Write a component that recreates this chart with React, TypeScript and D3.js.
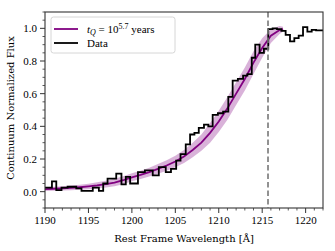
import React from "react";
import * as d3 from "d3";

// observed spectrum: bin left edges (Å) and flux, last edge closes the final bin
const binEdges = [
  1190.0, 1190.8, 1191.3, 1191.9, 1192.6, 1193.6, 1194.2, 1195.5, 1196.2, 1196.7,
  1197.2, 1198.2, 1198.8, 1199.3, 1199.8, 1200.7, 1201.5, 1202.4, 1203.1, 1203.9,
  1204.5, 1205.1, 1205.6, 1206.2, 1206.7, 1207.2, 1207.7, 1208.3, 1208.8, 1209.3,
  1209.9, 1210.5, 1211.1, 1211.6, 1212.2, 1212.8, 1213.3, 1213.8, 1214.2, 1214.7,
  1215.2, 1215.7, 1216.2, 1216.7, 1217.2, 1217.7, 1218.2, 1218.7, 1219.2, 1219.7,
  1220.2, 1220.7, 1221.2, 1222.0,
];
const dataFlux = [
  0.025, 0.063, 0.01, 0.025, 0.03, 0.02, 0.005, 0.025, 0.005, 0.05,
  0.08, 0.11, 0.045, 0.09, 0.05, 0.12, 0.13, 0.1, 0.15, 0.12,
  0.14, 0.19, 0.23, 0.29, 0.35, 0.36, 0.39, 0.41, 0.4, 0.47,
  0.48, 0.49, 0.58, 0.68, 0.69, 0.71, 0.72, 0.82, 0.9, 0.85,
  0.875, 0.995, 1.0, 0.995, 0.985, 0.96, 0.92, 0.94, 0.955, 1.008,
  0.98, 0.99, 0.988,
];

// model for t_Q = 10^5.7 years
const modelWave = [
  1190, 1191, 1192, 1193, 1194, 1195, 1196, 1197, 1198, 1199, 1200, 1201, 1202, 1203,
  1204, 1205, 1206, 1207, 1208, 1209, 1210, 1211, 1212, 1213, 1214, 1215, 1216, 1217, 1217.4,
];
const modelFlux = [
  0.015, 0.018, 0.02, 0.023, 0.027, 0.032, 0.038, 0.046, 0.056, 0.07, 0.088, 0.103, 0.12, 0.14,
  0.16, 0.185, 0.215, 0.255, 0.3, 0.36, 0.43, 0.51, 0.6, 0.69, 0.79, 0.88, 0.955, 0.99, 0.995,
];
const bandLow = [
  0.004, 0.006, 0.007, 0.009, 0.012, 0.015, 0.019, 0.025, 0.033, 0.045, 0.064, 0.078, 0.093, 0.11,
  0.128, 0.15, 0.175, 0.21, 0.25, 0.3, 0.365, 0.44, 0.53, 0.62, 0.72, 0.82, 0.91, 0.965, 0.98,
];
const bandHigh = [
  0.027, 0.03, 0.033, 0.037, 0.042, 0.049, 0.057, 0.067, 0.079, 0.095, 0.112, 0.128, 0.147, 0.17,
  0.192, 0.22, 0.255, 0.3, 0.35, 0.42, 0.495, 0.58, 0.67, 0.76, 0.86, 0.94, 0.995, 1.015, 1.01,
];

const lyaLine = 1215.67;
const xTicks = [1190, 1195, 1200, 1205, 1210, 1215, 1220];
const yTicks = [0.0, 0.2, 0.4, 0.6, 0.8, 1.0];

const W = 335;
const H = 251;
const margin = { top: 12, right: 12, bottom: 43, left: 45 };
const font = "'Liberation Serif', 'DejaVu Serif', serif";
const labelFont = "'DejaVu Serif', serif";

export default function App() {
  const iw = W - margin.left - margin.right;
  const ih = H - margin.top - margin.bottom;
  const x = d3.scaleLinear().domain([1190, 1222]).range([0, iw]);
  const y = d3.scaleLinear().domain([-0.1, 1.1]).range([ih, 0]);

  const stepPts = binEdges.map((e, i) => [e, dataFlux[Math.min(i, dataFlux.length - 1)]]);
  const stepPath = d3
    .line<number[]>()
    .x((d) => x(d[0]))
    .y((d) => y(d[1]))
    .curve(d3.curveStepAfter)(stepPts as any);

  const modelPath = d3
    .line<number>()
    .x((d) => x(d))
    .y((_, i) => y(modelFlux[i]))(modelWave);

  const bandPath = d3
    .area<number>()
    .x((d) => x(d))
    .y0((_, i) => y(bandLow[i]))
    .y1((_, i) => y(bandHigh[i]))(modelWave);

  const xMinor = d3.range(1190, 1223, 1).filter((v) => v % 5 !== 0);
  const yMinor = d3.range(-0.1, 1.1001, 0.05).filter((v) => Math.abs(v * 5 - Math.round(v * 5)) > 0.01);

  const axisColor = "#333";

  return (
    <svg width={W} height={H} style={{ position: "absolute", left: 0, top: 0, background: "#fff" }}>
      <defs>
        <clipPath id="plot">
          <rect x={0} y={0} width={iw} height={ih} />
        </clipPath>
      </defs>
      <g transform={`translate(${margin.left},${margin.top})`}>
        <g clipPath="url(#plot)">
          <path d={bandPath ?? ""} fill="#800080" fillOpacity={0.3} />
          <path d={modelPath ?? ""} fill="none" stroke="#800080" strokeWidth={1.8} />
          <path d={stepPath ?? ""} fill="none" stroke="#000" strokeWidth={1.8} strokeLinejoin="miter" />
          <line
            x1={x(lyaLine)}
            x2={x(lyaLine)}
            y1={0}
            y2={ih}
            stroke="#777"
            strokeWidth={1.6}
            strokeDasharray="5.5,3"
          />
        </g>
        <rect x={0} y={0} width={iw} height={ih} fill="none" stroke={axisColor} strokeWidth={1.1} />

        {xTicks.map((t) => (
          <g key={t} transform={`translate(${x(t)},${ih})`}>
            <line y2={5} stroke={axisColor} />
            <text y={16} textAnchor="middle" fontFamily={font} fontSize={11} fill="#000">
              {t}
            </text>
          </g>
        ))}
        {xMinor.map((t) => (
          <line key={t} x1={x(t)} x2={x(t)} y1={ih} y2={ih + 2.5} stroke={axisColor} strokeWidth={0.8} />
        ))}
        {yTicks.map((t) => (
          <g key={t} transform={`translate(0,${y(t)})`}>
            <line x2={-5} stroke={axisColor} />
            <text x={-8} dy="0.35em" textAnchor="end" fontFamily={font} fontSize={11} fill="#000">
              {t.toFixed(1)}
            </text>
          </g>
        ))}
        {yMinor.map((t) => (
          <line key={t.toFixed(2)} x1={0} x2={-2.5} y1={y(t)} y2={y(t)} stroke={axisColor} strokeWidth={0.8} />
        ))}

        <text
          x={iw / 2}
          y={ih + 34}
          textAnchor="middle"
          fontFamily={labelFont}
          fontSize={10}
          fill="#000"
        >
          Rest Frame Wavelength [Å]
        </text>
        <text
          transform={`translate(${-31},${ih / 2 - 2}) rotate(-90)`}
          textAnchor="middle"
          fontFamily={labelFont}
          fontSize={10}
          fill="#000"
        >
          Continuum Normalized Flux
        </text>

        <g transform="translate(6,5)">
          <rect width={124} height={36} rx={2.5} fill="#fff" fillOpacity={0.8} stroke="#ccc" strokeWidth={0.8} />
          <line x1={3} x2={27} y1={12} y2={12} stroke="#800080" strokeWidth={1.8} />
          <line x1={3} x2={27} y1={26} y2={26} stroke="#000" strokeWidth={1.8} />
          <text x={36} y={15.5} fontFamily={font} fontSize={11} fill="#000">
            <tspan fontStyle="italic">t</tspan>
            <tspan fontStyle="italic" fontSize={8} dy={2.5}>Q</tspan>
            <tspan dy={-2.5}> = 10</tspan>
            <tspan fontSize={8} dy={-4}>5.7</tspan>
            <tspan dy={4}> years</tspan>
          </text>
          <text x={36} y={29.5} fontFamily={font} fontSize={11} fill="#000">
            Data
          </text>
        </g>
      </g>
    </svg>
  );
}
